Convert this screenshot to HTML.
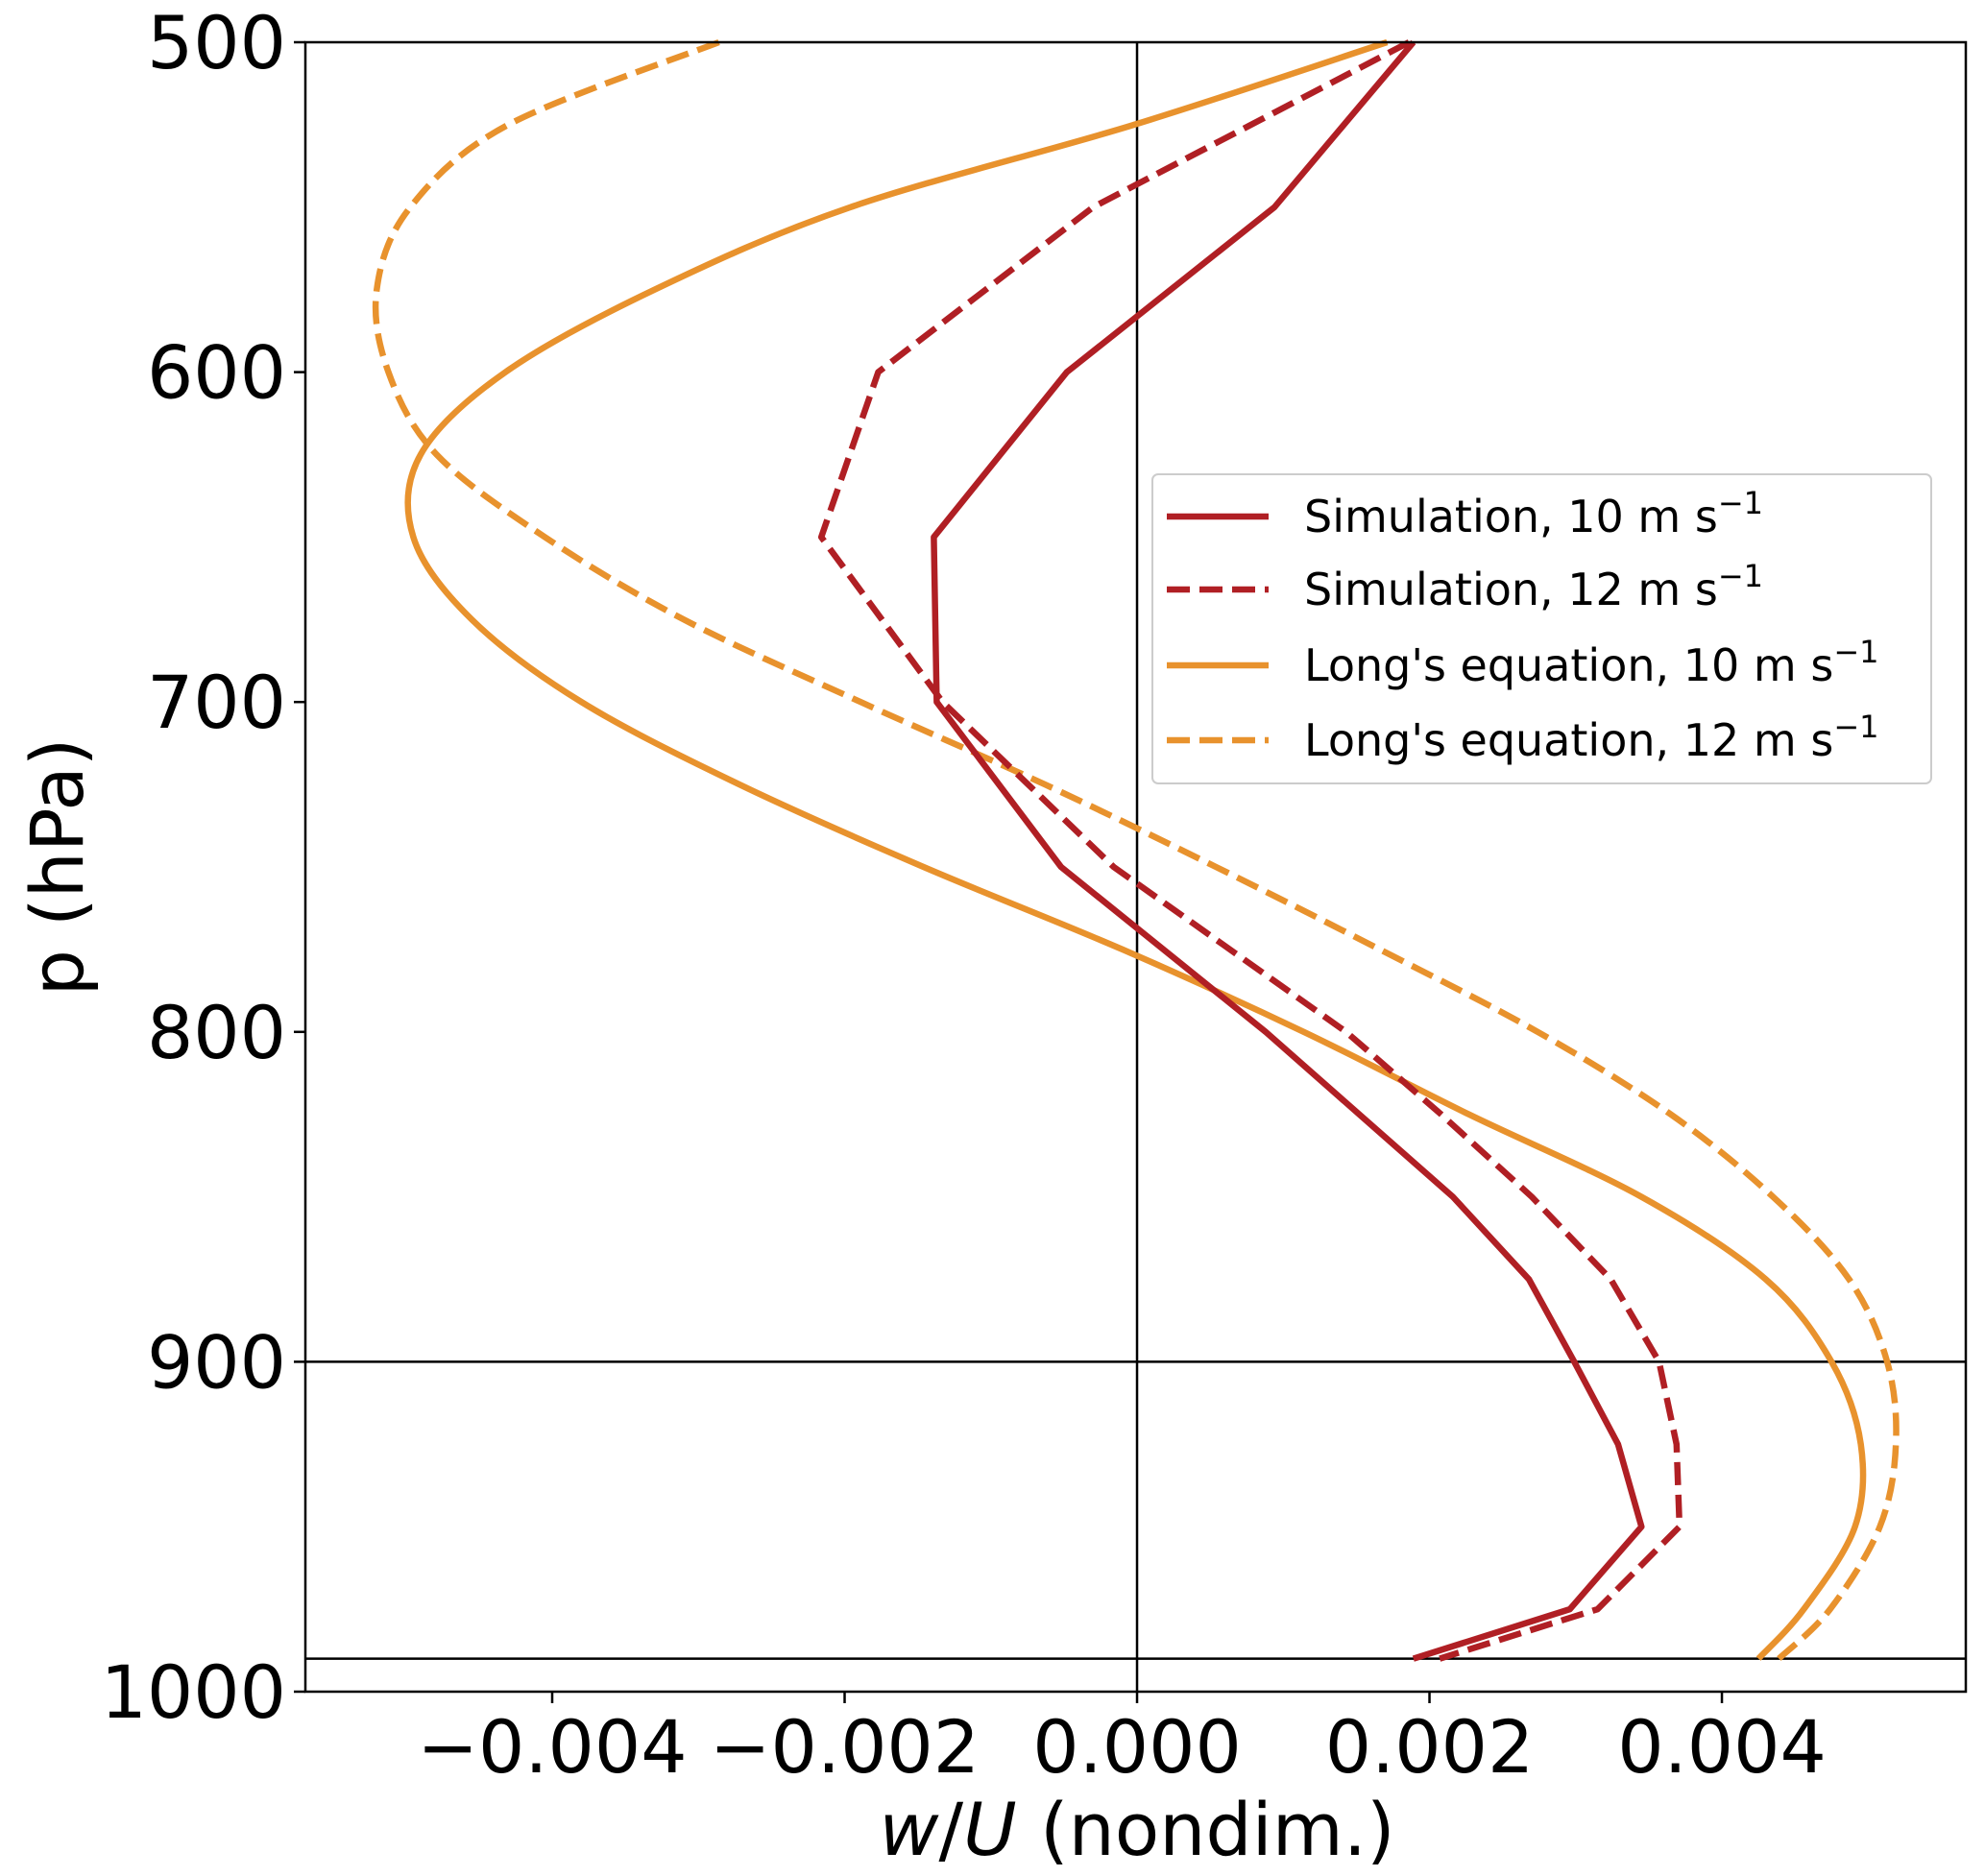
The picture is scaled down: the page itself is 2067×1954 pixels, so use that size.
<!DOCTYPE html>
<html><head><meta charset="utf-8"><style>
html,body{margin:0;padding:0;background:#fff}
body{position:relative}
svg{display:block;font-family:"DejaVu Sans","Liberation Sans",sans-serif}
</style></head><body>
<svg id="chart" width="2067" height="1954" viewBox="0 0 2067 1954" xmlns="http://www.w3.org/2000/svg">
<g id="plot"></g>
</svg>
<script>
const pressure = [500,525,550,575,600,625,650,675,700,725,750,775,800,825,850,875,900,925,950,975,990];
const simP = [500,550,600,650,700,750,800,825,850,875,900,925,950,975,990];
const sim10 = [0.00189,0.00094,-0.00048,-0.00139,-0.00137,-0.00052,0.00088,0.00152,0.00216,0.00268,0.00299,0.00329,0.00345,0.00296,0.00189];
const sim12 = [0.00186,-0.00030,-0.00177,-0.00216,-0.00133,-0.00016,0.00143,0.00208,0.00270,0.00324,0.00357,0.00369,0.00371,0.00315,0.00207];
const long10 = [0.00171,-0.00002,-0.00196,-0.00330,-0.00432,-0.00490,-0.00495,-0.00455,-0.00380,-0.00272,-0.00146,-0.00010,0.00114,0.00227,0.00345,0.00430,0.00475,0.00495,0.00491,0.00456,0.00425];
const long12 = [-0.00286,-0.00430,-0.00497,-0.00520,-0.00512,-0.00479,-0.00405,-0.00310,-0.00189,-0.00063,0.00054,0.00166,0.00274,0.00365,0.00435,0.00487,0.00513,0.00519,0.00508,0.00474,0.00439];
const xTicks = [-0.004,-0.002,0,0.002,0.004];
const xTickLabels = ["\u22120.004","\u22120.002","0.000","0.002","0.004"];
const yTicks = [500,600,700,800,900,1000];
const yTickLabels = ["500","600","700","800","900","1000"];
const hLines = [900,990];

const L=318,R=2047,T=44,B=1762;
const xMin=-0.005688,xMax=0.005668,pMin=500,pMax=1000;
const X=v=>L+(v-xMin)/(xMax-xMin)*(R-L);
const Y=p=>T+(p-pMin)/(pMax-pMin)*(B-T);
const NS="http://www.w3.org/2000/svg";
const g=document.getElementById('plot');
function mk(tag,attrs,parent){const e=document.createElementNS(NS,tag);for(const k in attrs)e.setAttribute(k,attrs[k]);(parent||g).appendChild(e);return e;}

let zl=mk('line',{x1:X(0),x2:X(0),y1:T,y2:B,stroke:'#000','stroke-width':2.5});


hLines.forEach(p=>{
  const l=mk('line',{x1:L,x2:R,y1:Y(p),y2:Y(p),stroke:'#000','stroke-width':2.5});
  
  
});

function pathD(ps,vals,smooth){
  const pts=ps.map((p,i)=>[X(vals[i]),Y(p)]);
  if(!smooth) return pts.map((q,i)=>(i?'L':'M')+q[0].toFixed(1)+','+q[1].toFixed(1)).join(' ');
  let d='M'+pts[0][0].toFixed(1)+','+pts[0][1].toFixed(1);
  for(let i=0;i<pts.length-1;i++){
    const p0=pts[Math.max(0,i-1)],p1=pts[i],p2=pts[i+1],p3=pts[Math.min(pts.length-1,i+2)];
    const c1=[p1[0]+(p2[0]-p0[0])/6,p1[1]+(p2[1]-p0[1])/6];
    const c2=[p2[0]-(p3[0]-p1[0])/6,p2[1]-(p3[1]-p1[1])/6];
    d+=' C'+c1[0].toFixed(1)+','+c1[1].toFixed(1)+' '+c2[0].toFixed(1)+','+c2[1].toFixed(1)+' '+p2[0].toFixed(1)+','+p2[1].toFixed(1);
  }
  return d;
}
function series(ps,vals,color,dash,name,smooth){
  const a={d:pathD(ps,vals,smooth),fill:'none',stroke:color,'stroke-width':6.5,'stroke-linejoin':'round'};
  if(dash)a['stroke-dasharray']='24 10';
  const e=mk('path',a);
  
  
}
const RED='#b01f24',ORG='#e8922d';
series(pressure,long12,ORG,true,'line-long-12',true);
series(pressure,long10,ORG,false,'line-long-10',true);
series(simP,sim12,RED,true,'line-sim-12',false);
series(simP,sim10,RED,false,'line-sim-10',false);

let fr=mk('rect',{x:L,y:T,width:R-L,height:B-T,fill:'none',stroke:'#000','stroke-width':2.5});



xTicks.forEach((v,i)=>{
  const t=mk('line',{x1:X(v),x2:X(v),y1:B,y2:B+12,stroke:'#000','stroke-width':2.5});
  
  
  const tx=mk('text',{x:X(v),y:B+84,'text-anchor':'middle','font-size':76});
  tx.textContent=xTickLabels[i];
  
  
});
yTicks.forEach((p,i)=>{
  const t=mk('line',{x1:L-12,x2:L,y1:Y(p),y2:Y(p),stroke:'#000','stroke-width':2.5});
  
  
  const tx=mk('text',{x:L-20,y:Y(p)+27,'text-anchor':'end','font-size':76});
  tx.textContent=yTickLabels[i];
  
  
});
</script>
<svg style="position:absolute;left:0;top:0" width="2067" height="1954">
<text x="1184" y="1932" text-anchor="middle" font-size="76" font-family="DejaVu Sans, Liberation Sans, sans-serif"><tspan font-style="italic">w</tspan>/<tspan font-style="italic">U</tspan> (nondim.)</text>
<text transform="translate(86,903) rotate(-90)" text-anchor="middle" font-size="76" font-family="DejaVu Sans, Liberation Sans, sans-serif">p (hPa)</text>
<g font-family="DejaVu Sans, Liberation Sans, sans-serif" font-size="46">
<rect x="1200" y="494" width="811" height="322" rx="6" fill="#fff" fill-opacity="0.85" stroke="#ccc" stroke-width="2"/>
<line x1="1215" x2="1321" y1="538" y2="538" stroke="#b01f24" stroke-width="6.5"/>
<text x="1358" y="554">Simulation, 10 m s<tspan dy="-19" font-size="32">−1</tspan></text>
<line x1="1215" x2="1321" y1="614" y2="614" stroke="#b01f24" stroke-width="6.5" stroke-dasharray="24 10"/>
<text x="1358" y="630">Simulation, 12 m s<tspan dy="-19" font-size="32">−1</tspan></text>
<line x1="1215" x2="1321" y1="693" y2="693" stroke="#e8922d" stroke-width="6.5"/>
<text x="1358" y="709">Long's equation, 10 m s<tspan dy="-19" font-size="32">−1</tspan></text>
<line x1="1215" x2="1321" y1="771" y2="771" stroke="#e8922d" stroke-width="6.5" stroke-dasharray="24 10"/>
<text x="1358" y="787">Long's equation, 12 m s<tspan dy="-19" font-size="32">−1</tspan></text>
</g>
</svg>
</body></html>
